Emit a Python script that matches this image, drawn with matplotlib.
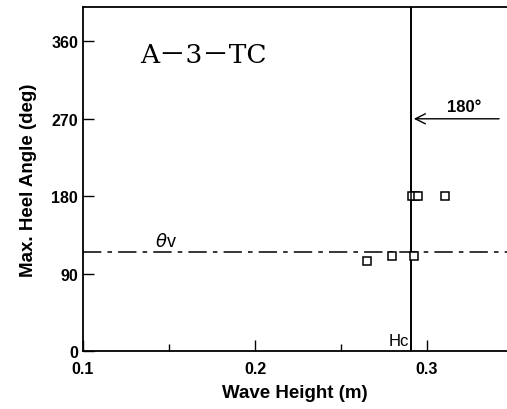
import numpy as np
import matplotlib.pyplot as plt
from matplotlib.ticker import MultipleLocator

# measured points (wave height m, max heel angle deg)
wave_h = [0.265, 0.2797, 0.2924, 0.2913, 0.2930, 0.2948, 0.3105]
heel = [105, 110.6, 110.6, 180, 180, 180, 180]
theta_v = 115
hc = 0.2907
xticks = [0.1, 0.2, 0.3]
yticks = [0, 90, 180, 270, 360]

plt.rcParams['font.family'] = ['Liberation Sans', 'DejaVu Sans']

fig = plt.figure(figsize=(5.07, 4.10), dpi=100)
ax = fig.add_axes([83/507, 58/410, 1 - 83/507, 344/410])

ax.plot(wave_h, heel, 's', mfc='white', mec='black', ms=6, mew=1.1, zorder=3)
ax.axhline(theta_v, color='black', lw=1.1, dashes=(12, 4, 3, 4))
ax.axvline(hc, color='black', lw=1.4)

ax.annotate('', xy=(hc, 270), xytext=(0.3435, 270),
            arrowprops=dict(arrowstyle='->', color='black', lw=1, mutation_scale=18))
ax.text(0.3115, 276, '180°', fontsize=12, fontweight='bold', ha='left', va='bottom')
ax.text(0.142, 118, r'$\theta$v', fontsize=13, ha='left', va='bottom')
ax.text(hc - 0.001, 3, 'Hc', fontsize=12, ha='right', va='bottom')
ax.text(0.133, 345, 'A－3－TC', fontsize=19, ha='left', va='center',
        family=['DejaVu Serif', 'Noto Sans CJK JP'])

ax.set_xlim(0.1, 0.3465)
ax.set_ylim(0, 400)
ax.set_xticks(xticks)
ax.set_xticklabels(['0.1', '0.2', '0.3'])
ax.xaxis.set_minor_locator(MultipleLocator(0.05))
ax.set_yticks(yticks)
ax.tick_params(direction='in', length=8, width=1, labelsize=11.5)
ax.tick_params(axis='x', pad=7)
ax.tick_params(which='minor', direction='in', length=5, width=1)
for lab in ax.get_xticklabels() + ax.get_yticklabels():
    lab.set_fontweight('bold')
ax.spines['right'].set_visible(False)
for s in ['left', 'bottom', 'top']:
    ax.spines[s].set_linewidth(1.3)

ax.set_xlabel('Wave Height (m)', fontsize=13.5, fontweight='bold', labelpad=6)
ax.set_ylabel('Max. Heel Angle (deg)', fontsize=13.5, fontweight='bold', labelpad=10)

fig.savefig('out.png', dpi=100)
